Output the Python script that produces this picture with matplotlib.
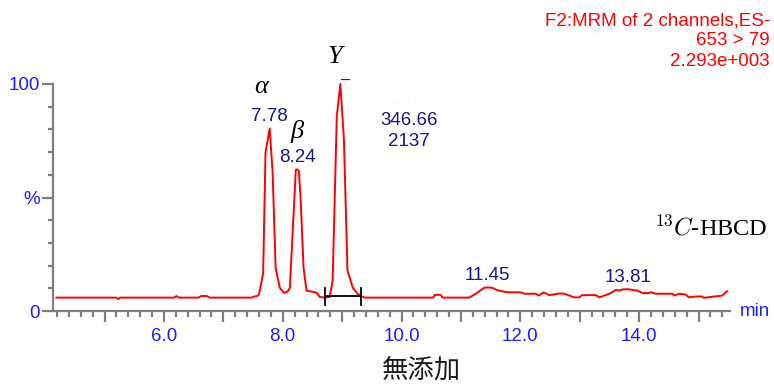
import matplotlib
matplotlib.use("Agg")
import matplotlib.pyplot as plt
from matplotlib.ticker import FixedLocator, MultipleLocator, FuncFormatter

# Chromatogram trace: retention time (min) and relative intensity (%)
times = [4.19, 5.20, 5.23, 5.26, 6.17, 6.21, 6.25, 6.58, 6.63, 6.72, 6.77,
         7.48, 7.52, 7.57, 7.60, 7.67, 7.71, 7.78, 7.83, 7.88, 7.95, 8.02,
         8.08, 8.12, 8.16, 8.22, 8.24, 8.27, 8.30, 8.35, 8.40, 8.50, 8.57,
         8.62, 8.70, 8.79, 8.84, 8.91, 8.97, 9.03, 9.09, 9.18, 9.26, 9.32,
         9.38, 10.53, 10.56, 10.66, 10.69, 11.14, 11.25, 11.39, 11.45, 11.53,
         11.61, 11.76, 12.01, 12.07, 12.26, 12.31, 12.39, 12.49, 12.66, 12.74,
         12.91, 12.99, 13.04, 13.27, 13.33, 13.50, 13.61, 13.66, 13.72, 13.81,
         13.97, 14.06, 14.17, 14.19, 14.28, 14.56, 14.59, 14.67, 14.78, 14.84,
         14.95, 15.06, 15.09, 15.40, 15.48]
intensity = [5.9, 5.9, 5.2, 5.9, 5.9, 6.6, 5.9, 5.9, 6.6, 6.6, 5.9,
             5.9, 6.4, 6.6, 7.3, 16.4, 69.8, 80.4, 60.9, 19.1, 10.2, 8.0,
             8.5, 10.2, 31.1, 62.2, 62.4, 61.8, 50.2, 19.1, 8.9, 8.5, 8.1,
             6.2, 5.9, 6.2, 13.3, 85.8, 100.0, 75.6, 17.8, 10.2, 7.6, 6.6,
             5.9, 5.9, 7.1, 7.1, 5.9, 5.9, 7.6, 10.2, 10.4, 10.2,
             9.2, 8.3, 8.2, 7.6, 7.6, 6.8, 8.2, 7.0, 7.7, 7.6,
             6.0, 6.0, 7.0, 7.0, 6.0, 7.6, 9.3, 9.0, 9.5, 9.6,
             9.0, 7.9, 7.9, 8.3, 7.6, 7.6, 6.8, 7.6, 7.3, 6.0,
             6.4, 6.4, 5.8, 6.8, 8.7]

# Labelled peaks (retention times)
labelled_peaks = [7.78, 8.24, 11.45, 13.81]
isomer_peaks = [7.78, 8.24, 8.97]
isomer_names = ["α", "β", "Υ"]
isomer_offsets_px = [(-9, 41), (0, 38), (-6, 27)]

# Integration window and area / height of the main peak
integration_window = [8.71, 9.31]
integration_level = 6.7
area_text = ["346.66", "2137"]

header_lines = ["F2:MRM of 2 channels,ES-", "653 > 79", "2.293e+003"]
compound_label = r"$^{13}C$-HBCD"
sample_label = "無添加"
x_tick_labels = {6: "6.0", 8: "8.0", 10: "10.0", 12: "12.0", 14: "14.0"}

RED = "#ff0000"
BLUE = "#1c1cff"
NAVY = "#161684"
GRAY = "#7f7f7f"
PX = 72 / 100  # points per pixel at dpi=100

plt.rcParams["font.family"] = ["Liberation Sans", "DejaVu Sans"]

fig = plt.figure(figsize=(7.74, 3.87), dpi=100)
ax = fig.add_axes([53 / 774, 76 / 387, (730 - 53) / 774, (311 - 84) / 387])

ax.plot(times, intensity, color=RED, lw=1.4, clip_on=False, zorder=3)

ax.set_xlim(4.132, 15.53)
ax.set_ylim(0, 100)

for s in ("top", "right"):
    ax.spines[s].set_visible(False)
for s in ("left", "bottom"):
    ax.spines[s].set_color(GRAY)
    ax.spines[s].set_linewidth(1.6)

# y axis: 0 / % / 100 with minor ticks every 10
ax.yaxis.set_major_locator(FixedLocator([0, 50, 100]))
ax.yaxis.set_major_formatter(FuncFormatter(lambda v, p: {0: "0", 50: "%", 100: "100"}.get(int(round(v)), "")))
ax.yaxis.set_minor_locator(MultipleLocator(10))
ax.tick_params(axis="y", which="major", length=11 * PX, width=1.6, color=GRAY,
               labelcolor=BLUE, labelsize=13.5, pad=1.5)
ax.tick_params(axis="y", which="minor", length=5 * PX, width=1.6, color=GRAY)

# x axis: long ticks each minute, labels every two minutes
ax.xaxis.set_major_locator(FixedLocator(list(range(5, 16))))
ax.xaxis.set_major_formatter(FuncFormatter(lambda v, p: x_tick_labels.get(int(round(v)), "")))
ax.xaxis.set_minor_locator(MultipleLocator(0.2))
ax.tick_params(axis="x", which="major", length=11 * PX, width=1.6, color=GRAY,
               labelcolor=BLUE, labelsize=13.5, pad=4)
ax.tick_params(axis="x", which="minor", length=6 * PX, width=1.6, color=GRAY)

ax.text(15.69, 0, "min", color=BLUE, fontsize=13.5, ha="left", va="center")


def peak_value(t):
    i = min(range(len(times)), key=lambda k: abs(times[k] - t))
    return times[i], intensity[i]


# retention-time labels
for t in labelled_peaks:
    pt, pv = peak_value(t)
    ax.annotate(f"{t:.2f}", (pt, pv), xytext=(0, 12 * PX), textcoords="offset points",
                ha="center", va="center", color=NAVY, fontsize=13.5)

# main peak marker and its area / height
gt, gv = peak_value(isomer_peaks[2])
ax.annotate("–", (gt, gv), xytext=(5 * PX, 4 * PX), textcoords="offset points",
            ha="center", va="center", color=NAVY, fontsize=12)
ax.annotate("\n".join(area_text), (gt, gv), xytext=(69 * PX, -47 * PX),
            textcoords="offset points", ha="center", va="center", color=NAVY,
            fontsize=13.5, linespacing=1.3)
ax.annotate("-    -", (gt, gv), xytext=(63 * PX, -18 * PX), textcoords="offset points",
            ha="center", va="center", color="#b0b0e0", fontsize=5)

# isomer names
for t, name, (dx, dy) in zip(isomer_peaks, isomer_names, isomer_offsets_px):
    pt, pv = peak_value(t)
    ax.annotate(name, (pt, pv), xytext=(dx * PX, dy * PX), textcoords="offset points",
                ha="center", va="center", fontsize=19, style="italic",
                family=["Liberation Serif", "DejaVu Serif"], color="black")

# integration baseline
ax.plot(integration_window, [integration_level] * 2, color="black", lw=1.3, zorder=4)
for xb in integration_window:
    ax.plot([xb, xb], [integration_level - 4, integration_level + 3.5], color="black",
            lw=1.3, zorder=4)

fig.text(770 / 774, 1 - 12 / 387, "\n".join(header_lines), color=RED, fontsize=13.5,
         ha="right", va="top", multialignment="right", linespacing=1.25)
fig.text(768 / 774, 1 - 228 / 387, compound_label, fontsize=17.5, ha="right", va="center",
         family=["Liberation Serif", "DejaVu Serif"], math_fontfamily="cm")
fig.text(421 / 774, 1 - 370 / 387, sample_label, fontsize=19, ha="center", va="center",
         family=["Noto Sans CJK JP", "DejaVu Sans"], color="#1a1a1a")

fig.savefig("out.png", dpi=100)
